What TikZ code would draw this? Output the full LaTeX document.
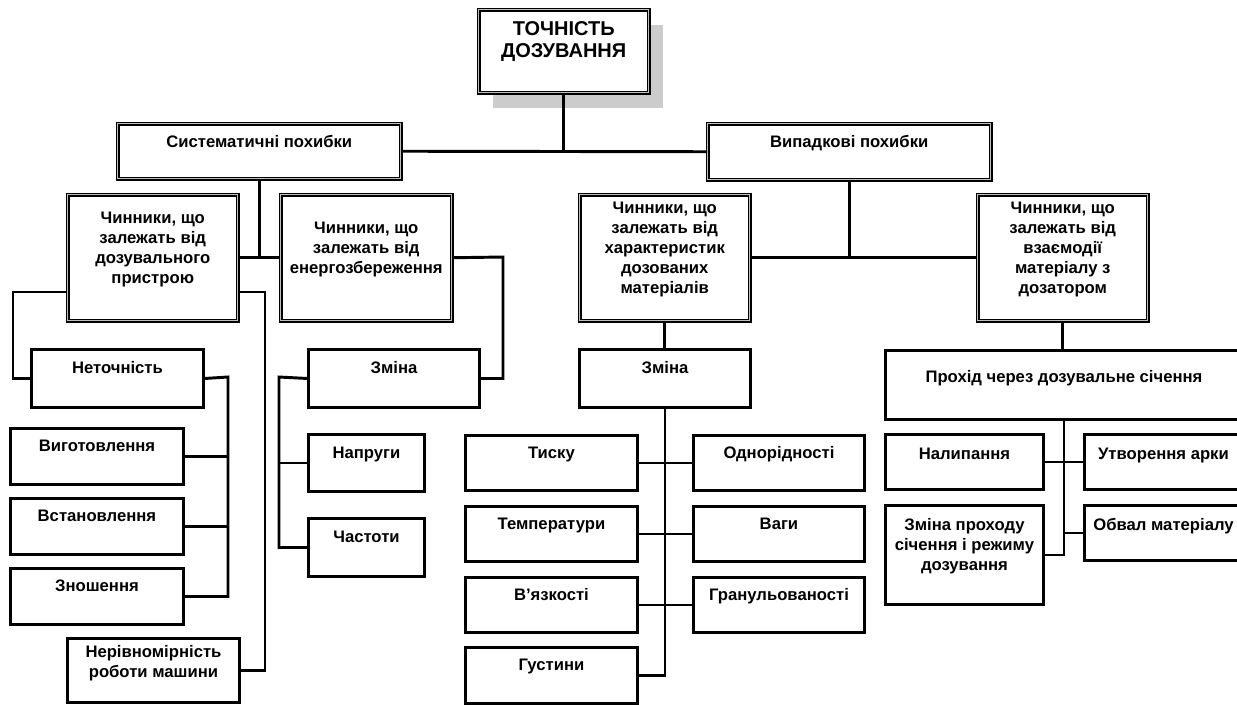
\documentclass[tikz,border=0pt]{standalone}
\usepackage{fontspec}
\setmainfont{Liberation Sans}
\usetikzlibrary{shadows}

\newdimen\pxu \pxu=0.75pt
% text of a box: [offset of first line], width, height (px), text
\newcommand{\cell}[4][17]{\parbox[t][#3\pxu][t]{#2\pxu}{\centering\vspace*{\dimexpr #1\pxu-8\pxu\relax}\strut #4}}

\begin{document}
\begin{tikzpicture}[x=0.75pt, y=-0.75pt,
 font=\fontsize{12.5}{15}\selectfont\bfseries,
 line width=2.2pt,
 sbox/.style={draw, fill=white, inner sep=0pt, anchor=north west, line width=2.2pt},
 dbox/.style={sbox, line width=1.1pt, double=gray!50, double distance=1pt},
 shade/.style={drop shadow={opacity=1, fill=gray!40, shadow xshift=10.5pt, shadow yshift=-11.25pt}}
]
\useasboundingbox (0,0) rectangle (1237,704);

% top of the tree
\node[dbox, shade, font=\fontsize{15}{16.5}\selectfont\bfseries] (top) at (478,9)
 {\cell[18]{170}{83}{ТОЧНІСТЬ\\ДОЗУВАННЯ}};
\node[dbox] (sys) at (117,123) {\cell[18]{283}{55}{Систематичні похибки}};
\node[dbox] (rnd) at (707,123) {\cell[18]{283}{56}{Випадкові похибки}};
\draw (top.south) -- (top.south |- sys.east);
\draw (sys.east) -- (rnd.west);

% factors
\node[dbox] (A) at (67,194) {\cell[23]{170}{126}{Чинники, що\\залежать від\\дозувального\\пристрою}};
\node[dbox] (B) at (280,194) {\cell[33]{171}{126}{Чинники, що\\залежать від\\енергозбереження}};
\node[dbox] (C) at (579,194) {\cell[13]{170}{126}{Чинники, що\\залежать від\\характеристик\\дозованих\\матеріалів}};
\node[dbox] (D) at (977,194) {\cell[13]{170}{126}{Чинники, що\\залежать від\\взаємодії\\матеріалу з\\дозатором}};
\draw (sys.south) -- (sys.south |- A.east);
\draw (A.east) -- (B.west);
\draw (rnd.south) -- (rnd.south |- C.east);
\draw (C.east) -- (D.west);

% device
\node[sbox] (nt) at (30,348) {\cell[18]{172}{58}{Неточність}};
\foreach \n/\txt/\y in {vyg/Виготовлення/427, vst/Встановлення/497, zno/Зношення/567} {
 \node[sbox] (\n) at (9,\y) {\cell{173}{56}{\txt}};
}
\node[sbox] (ner) at (66,637) {\cell[13]{172}{64}{Нерівномірність\\роботи машини}};
\coordinate (la) at (13,292);
\coordinate (ra) at (265,292);
\coordinate (nb) at (228,377);
\draw (A.west |- la) -- (la) |- (nt.west);
\draw (A.east |- ra) -- (ra) |- (ner.east);
\draw (nt.east) -- (nb) |- (zno.east);
\foreach \n in {vyg,vst} \draw (\n.east) -- (\n.east -| nb);

% energy
\node[sbox] (zm1) at (307,348) {\cell[18]{171}{58}{Зміна}};
\node[sbox] (nap) at (307,433) {\cell[18]{116}{57}{Напруги}};
\node[sbox] (cha) at (307,517) {\cell[18]{116}{58}{Частоти}};
\coordinate (eb) at (503,257);
\coordinate (zb) at (279,377);
\draw (B.east) -- (eb) |- (zm1.east);
\draw (zm1.west) -- (zb) |- (cha.west);
\draw (nap.west) -- (nap.west -| zb);

% materials
\node[sbox] (zm2) at (578,348) {\cell[18]{171}{58}{Зміна}};
\foreach \l/\r/\y [count=\i] in {Тиску/Однорідності/434, Температури/Ваги/505, В’язкості/Гранульованості/576} {
 \node[sbox] (cl\i) at (464,\y) {\cell{172}{55}{\l}};
 \node[sbox] (cr\i) at (692,\y) {\cell{171}{55}{\r}};
 \draw (cl\i.east) -- (cr\i.west);
}
\node[sbox] (gus) at (464,646) {\cell{172}{56}{Густини}};
\draw (C.south) -- (C.south |- zm2.north);
\draw (zm2.south) |- (gus.east);

% interaction
\node[sbox] (pr) at (884,349) {\cell[26]{357}{69}{Прохід через дозувальне січення}};
\node[sbox] (nal) at (884,433) {\cell[19]{158}{55}{Налипання}};
\node[sbox] (utv) at (1083,433) {\cell[19]{158}{55}{Утворення арки}};
\node[sbox] (zpr) at (884,504) {\cell[19]{158}{99}{Зміна проходу\\січення і режиму\\дозування}};
\node[sbox] (obv) at (1083,504) {\cell[19]{158}{55}{Обвал матеріалу}};
\draw (D.south) -- (D.south |- pr.north);
\draw (pr.south) |- (zpr.east);
\draw (nal.east) -- (utv.west);
\draw (obv.west) -- (obv.west -| pr.south);

\end{tikzpicture}
\end{document}
